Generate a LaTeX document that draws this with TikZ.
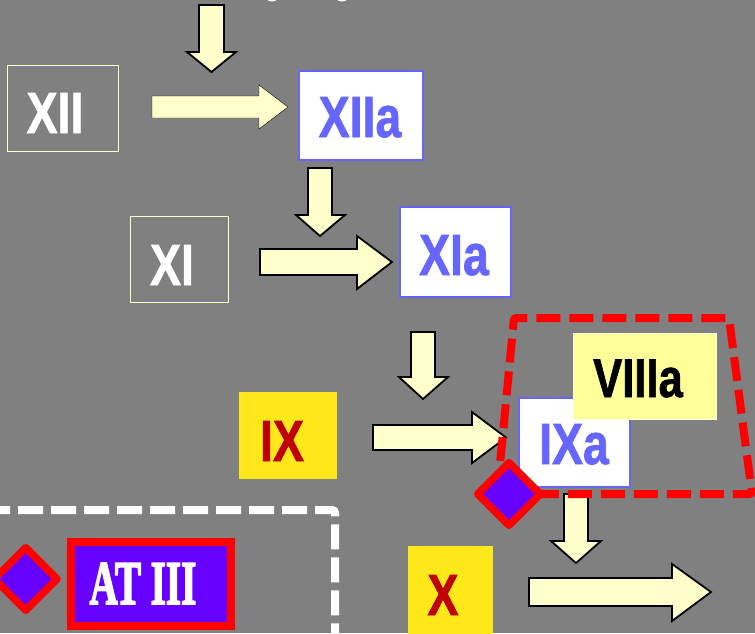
\documentclass[tikz,border=0pt]{standalone}
\usepackage{fontspec}
\setmainfont{Liberation Sans}
\newfontfamily\heavyfont[BoldFeatures={FakeBold=1.4}]{Liberation Sans}
\newfontfamily\slabfont[BoldFeatures={FakeBold=3}]{Liberation Serif}
\definecolor{bgc}{HTML}{808080}
\definecolor{cream}{HTML}{FFFFCC}
\definecolor{periw}{HTML}{6666FF}
\definecolor{violetf}{HTML}{6600FF}
\definecolor{yelf}{HTML}{FFE81A}
\definecolor{palef}{HTML}{FFFF99}
\definecolor{darkred}{HTML}{C00000}
\tikzset{
  x=1pt,y=-1pt,
  boxbase/.style={anchor=north west,inner sep=0pt,outer sep=0pt},
  zymogen/.style={boxbase,draw=cream,line width=1.8pt},
  enzyme/.style={boxbase,draw=periw,fill=white,line width=2pt},
  yelbox/.style={boxbase,fill=yelf},
  palebox/.style={boxbase,fill=palef,draw=white!75!palef,line width=.6pt},
  labelbase/.style={anchor=base,inner sep=0pt,font=\fontsize{58}{60}\heavyfont\bfseries},
  whitelab/.style={labelbase,text=white},
  bluelab/.style={labelbase,text=periw},
  redlab/.style={labelbase,text=darkred},
  blacklab/.style={labelbase,text=black,font=\fontsize{54.5}{58}\heavyfont\bfseries},
  atlab/.style={anchor=base,inner sep=0pt,text=white,font=\fontsize{62}{64}\slabfont\bfseries},
  blockarr/.style={fill=cream,draw=black,line width=1.8pt,miter limit=10},
  blockplain/.style={fill=cream},
  reddash/.style={draw=red,line width=8pt,dash pattern=on 24pt off 9pt,rounded corners=2.5pt},
  whitedash/.style={draw=white,line width=8pt,dash pattern=on 25pt off 8pt,rounded corners=3pt},
  inhib/.style={draw=red,fill=violetf,line width=7.5pt,line join=round},
  atbox/.style={boxbase,draw=red,fill=violetf,line width=8pt}
}
\newcommand{\squeezed}[1]{\scalebox{.8}[1]{#1}}
\newcommand{\downarr}[7]{%
  \draw[blockarr] (#1,#3) -- (#2,#3) -- (#2,#4) -- (#6,#4) -- ({(#1+#2)/2},#7) -- (#5,#4) -- (#1,#4) -- cycle;}
\newcommand{\rightarr}[8][blockarr]{%
  \draw[#1] (#2,#3) -- (#5,#3) -- (#5,#6) -- (#8,{(#3+#4)/2}) -- (#5,#7) -- (#5,#4) -- (#2,#4) -- cycle;}
\begin{document}
\begin{tikzpicture}
\useasboundingbox (0,0) rectangle (755,633);
\clip (0,0) rectangle (755,633);
\fill[bgc] (0,0) rectangle (755,633);
\fill[white] (272,-1) ellipse [x radius=5pt,y radius=2.5pt];
\fill[white] (342,-1) ellipse [x radius=5pt,y radius=2.5pt];

\coordinate (wa) at (-15,510);
\coordinate (wb) at (335,510);
\coordinate (wc) at (335,650);
\draw[whitedash] (wa) -- (wb) -- (wc);

\downarr{199}{224}{5}{52}{187}{236}{72}
\rightarr[blockplain]{152}{96}{118}{259}{85}{129}{288}
\downarr{308}{332}{168}{215}{296}{345}{236}
\rightarr{260}{249}{275}{357}{236}{289}{392}
\downarr{411}{435}{332}{377}{399}{448}{399}
\rightarr{373}{425}{450}{472}{412}{463}{506}
\downarr{564}{588}{494}{541}{551}{601}{563}
\rightarr{529}{578}{606}{672}{564}{621}{711}

\node[zymogen,minimum width=111pt,minimum height=86pt] (xii) at (7.5,65.5) {};
\node[whitelab] (xiit) at (55,133) {\squeezed{XII}};
\node[enzyme,minimum width=124pt,minimum height=89pt] (xiia) at (299,70.5) {};
\node[bluelab] (xiiat) at (360,137) {\squeezed{XIIa}};
\node[zymogen,minimum width=98pt,minimum height=86pt] (xi) at (130.5,216.5) {};
\node[whitelab] (xit) at (172,285) {\squeezed{XI}};
\node[enzyme,minimum width=111pt,minimum height=90pt] (xia) at (399.5,206.5) {};
\node[bluelab] (xiat) at (454,275) {\squeezed{XIa}};
\node[yelbox,minimum width=98pt,minimum height=87pt] (ix) at (239,392) {};
\node[redlab] (ixt) at (282,461) {\squeezed{IX}};
\node[enzyme,minimum width=111pt,minimum height=89pt] (ixa) at (519,397.5) {};
\node[bluelab] (ixat) at (574,464) {\squeezed{IXa}};
\node[palebox,minimum width=143pt,minimum height=86pt] (viiia) at (573,333) {};
\node[blacklab] (viiiat) at (638,397) {\squeezed{VIIIa}};
\node[yelbox,minimum width=85pt,minimum height=90pt] (x) at (408,546) {};
\node[redlab] (xt) at (443,615) {\squeezed{X}};

\coordinate (ts) at (500.3,461);
\coordinate (ta) at (514,318);
\coordinate (tb) at (729,318);
\coordinate (tc) at (752,494);
\coordinate (td) at (505,494);
\draw[reddash] (ts) -- (ta) -- (tb) -- (tc) -- (td);

\draw[inhib] (509,462.7) -- (540.3,494) -- (509,525.3) -- (477.7,494) -- cycle;
\draw[inhib] (25.7,547.7) -- (57,579) -- (25.7,610.3) -- (-5.6,579) -- cycle;
\node[atbox,minimum width=160pt,minimum height=84pt] (at) at (71,542) {};
\node[atlab] (att) at (143,604) {\scalebox{.63}[1]{AT III}};
\end{tikzpicture}
\end{document}
